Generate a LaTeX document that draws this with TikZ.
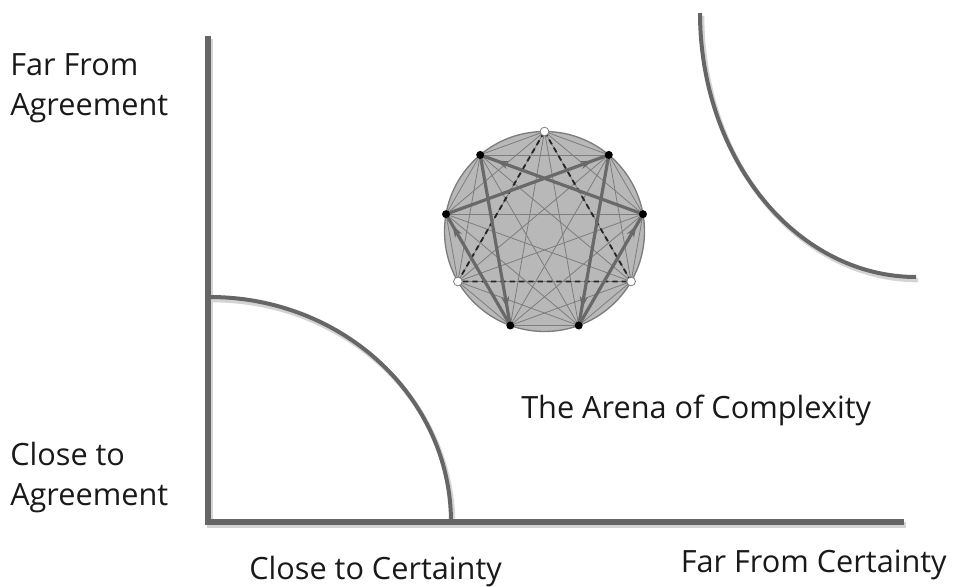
\documentclass[tikz,border=0pt]{standalone}
\usepackage{fontspec}
\setmainfont{Open Sans}
\usetikzlibrary{arrows.meta,decorations.markings}
\definecolor{axisgray}{RGB}{102,102,102}
\definecolor{discgray}{RGB}{184,184,184}
\definecolor{chordgray}{RGB}{125,125,125}
\definecolor{hexgray}{RGB}{105,105,105}
\definecolor{shadowgray}{RGB}{212,212,212}
\tikzset{
  axisline/.style={draw=axisgray, line width=3.8pt, line join=miter},
  arcline/.style={draw=axisgray, line width=3pt},
  shadowline/.style={draw=shadowgray, line width=4.5pt},
  label/.style={font=\fontsize{23}{30}\selectfont, inner sep=0pt, align=left, text=black!90},
  disc/.style={draw=chordgray, line width=1pt, fill=discgray},
  chord/.style={draw=chordgray, line width=0.6pt},
  hexad/.style={draw=hexgray, line width=2.4pt,
    postaction={decorate},
    decoration={markings, mark=at position 0.9 with {\arrow{Stealth[length=9pt,width=6pt]}}}},
  triad/.style={draw=black!85, line width=1.4pt, dash pattern=on 4pt off 3pt},
  blackdot/.style={circle, fill=black, inner sep=0pt, minimum size=6pt},
  whitedot/.style={circle, fill=white, draw=chordgray, line width=0.6pt, inner sep=0pt, minimum size=6.5pt}
}
\begin{document}
\begin{tikzpicture}[x=0.75pt, y=-0.75pt]
\useasboundingbox (0,0) rectangle (957,586);
% shadows
\begin{scope}[shift={(2,3)}]
  \draw[shadowline] (208,36) -- (208,522) -- (904,522);
  \draw[shadowline, line width=3.5pt] plot[domain=-90:0, samples=60] ({210+241*cos(\x)},{522+225*sin(\x)});
  \draw[shadowline, line width=3.5pt] plot[domain=180:90, samples=60] ({916+216*cos(\x)},{13+264*sin(\x)});
\end{scope}
% axes
\coordinate (ytop) at (208,36);
\coordinate (orig) at (208,522);
\coordinate (xend) at (904,522);
\draw[axisline] (ytop) -- (orig) -- (xend);
% arcs
\draw[arcline] plot[domain=-90:0, samples=80] ({210+241*cos(\x)},{522+225*sin(\x)});
\draw[arcline] plot[domain=180:90, samples=80] ({916+216*cos(\x)},{13+264*sin(\x)});
% enneagram
\coordinate (c) at (544.5,231.5);
\draw[disc] (c) circle[radius=75pt];
\foreach \k in {0,...,8}{
  \coordinate (p\k) at ({544.5+100*cos(-90+40*\k)},{231.5+100*sin(-90+40*\k)});
}
\foreach \i in {0,...,7}{
  \pgfmathtruncatemacro\s{\i+1}
  \foreach \j in {\s,...,8}{
    \draw[chord] (p\i) -- (p\j);
  }
}
\draw[triad] (p0) -- (p3) -- (p6) -- cycle;
\draw[hexad] (p1) -- (p4);
\draw[hexad] (p4) -- (p2);
\draw[hexad] (p2) -- (p8);
\draw[hexad] (p8) -- (p5);
\draw[hexad] (p5) -- (p7);
\draw[hexad] (p7) -- (p1);
\foreach \k in {1,2,4,5,7,8}{
  \node[blackdot] (dot\k) at (p\k) {};
}
\foreach \k in {0,3,6}{
  \node[whitedot] (dot\k) at (p\k) {};
}
% labels
\node[label, anchor=base west] (farag) at (10,115) {Far From\\Agreement};
\node[label, anchor=base west] (closeag) at (10,505) {Close to\\Agreement};
\node[label, anchor=base west] (arena) at (521,418) {The Arena of Complexity};
\node[label, anchor=base west] (closecert) at (249,579) {Close to Certainty};
\node[label, anchor=base east] (farcert) at (947,572) {Far From Certainty};
\end{tikzpicture}
\end{document}
